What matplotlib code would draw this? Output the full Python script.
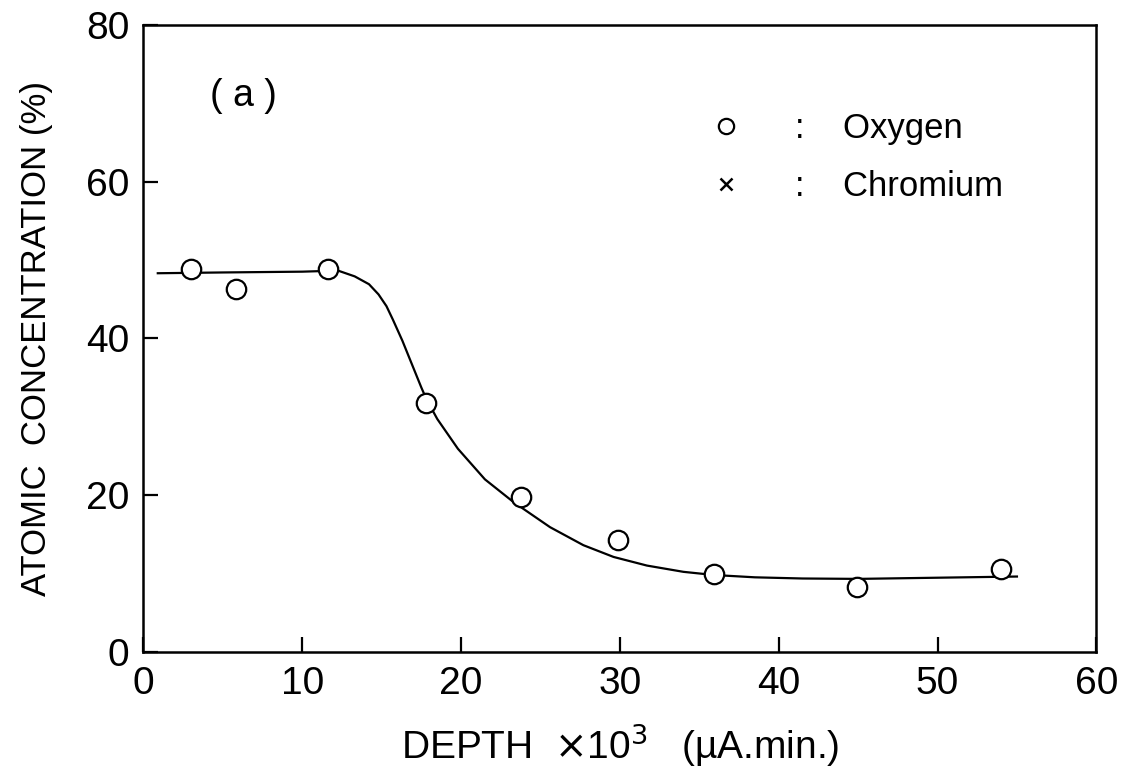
import numpy as np
import matplotlib
matplotlib.use("Agg")
import matplotlib.pyplot as plt
from matplotlib.lines import Line2D

plt.rcParams['font.family'] = ['Liberation Sans', 'DejaVu Sans']

# measured oxygen concentration vs sputter depth
depth = [3.0, 5.8, 11.6, 17.8, 23.8, 29.9, 35.9, 44.9, 54.0]
oxygen = [48.8, 46.3, 48.8, 31.8, 19.8, 14.2, 9.9, 8.3, 10.5]

# hand-fitted trend line
fit_x = [0.9, 5.0, 10.0, 11.6, 12.3, 13.3, 14.2, 14.8, 15.3, 15.7, 16.3, 16.9,
         17.5, 17.8, 18.5, 19.8, 21.5, 23.3, 25.6, 27.7, 29.6, 31.7, 34.0, 35.9,
         38.5, 41.5, 45.0, 50.0, 55.0]
fit_y = [48.3, 48.4, 48.5, 48.6, 48.6, 47.9, 46.9, 45.6, 44.1, 42.4, 39.7, 36.7,
         33.7, 32.3, 29.7, 25.9, 22.0, 19.1, 15.9, 13.6, 12.1, 11.0, 10.2, 9.8,
         9.5, 9.35, 9.3, 9.45, 9.6]

fig = plt.figure(figsize=(11.21, 7.75), dpi=100)
ax = fig.add_axes([0.128, 0.159, 0.850, 0.809])

ax.plot(fit_x, fit_y, color='black', lw=1.6, zorder=2)
ax.plot(depth, oxygen, 'o', ms=14, mfc='white', mec='black', mew=1.6, zorder=3)

ax.set_xlim(0, 60)
ax.set_ylim(0, 80)
ax.set_xticks(np.arange(0, 61, 10))
ax.set_yticks(np.arange(0, 81, 20))
ax.tick_params(direction='in', length=11, width=1.6, labelsize=28, pad=10,
               top=False, right=False)
for s in ax.spines.values():
    s.set_linewidth(1.8)

ax.set_xlabel('DEPTH  $\\times$10$^3$   (µA.min.)', fontsize=28, labelpad=14)
ax.set_ylabel('ATOMIC  CONCENTRATION (%)', fontsize=25, labelpad=24)

ax.text(0.07, 0.87, '( a )', transform=ax.transAxes, fontsize=27)

handles = [Line2D([], [], ls='none', marker='o', ms=11, mfc='white', mec='black', mew=1.6),
           Line2D([], [], ls='none', marker='x', ms=8, color='black', mew=1.8)]
ax.legend(handles, [':    Oxygen', ':    Chromium'], loc='upper left',
          bbox_to_anchor=(0.542, 0.91), frameon=False, fontsize=25,
          handletextpad=1.0, labelspacing=0.7)

fig.savefig('out.png', dpi=100)
